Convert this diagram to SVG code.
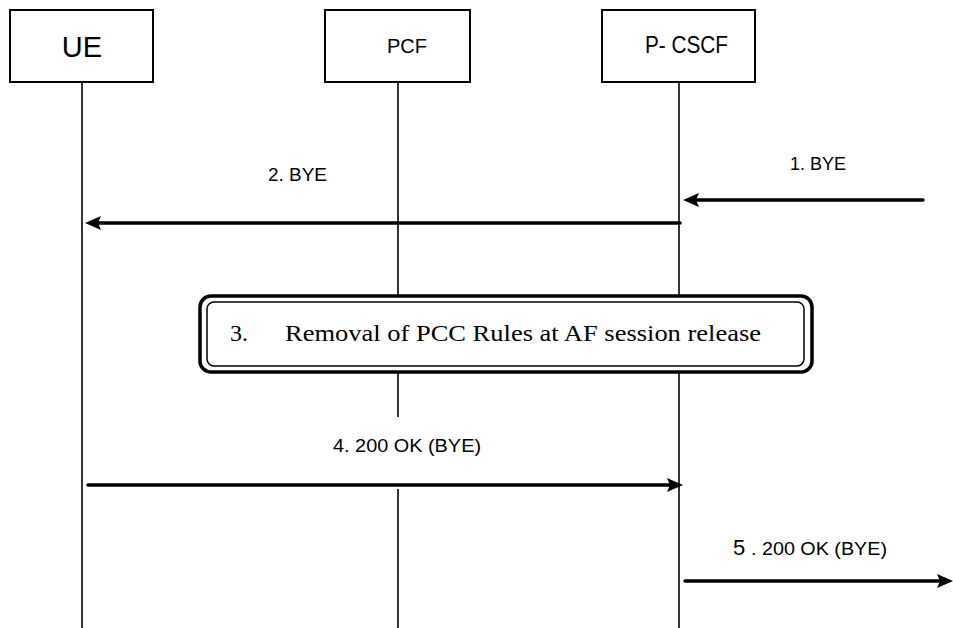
<svg xmlns="http://www.w3.org/2000/svg" width="953" height="628" viewBox="0 0 953 628">
<style>
.box{fill:#fff;stroke:#000;stroke-width:2}
.life{stroke:#000;stroke-width:1.6;fill:none}
.msg{stroke:#000;stroke-width:3.5;fill:none;stroke-linecap:round}
.t{font-family:"Liberation Sans",Arial,sans-serif;fill:#000}
.s{font-family:"Liberation Serif","Times New Roman",serif;fill:#000}
</style>
<defs>
<marker id="ah" markerUnits="userSpaceOnUse" markerWidth="18" markerHeight="16" refX="8" refY="7" orient="auto">
<path d="M0,0 L16,7 L0,14 L3,7 z" fill="#000"/>
</marker>
</defs>
<g id="lifelines">
<line class="life" x1="82" y1="82" x2="82" y2="628"/>
<line class="life" x1="398" y1="82" x2="398" y2="296"/>
<line class="life" x1="398" y1="372" x2="398" y2="417"/>
<line class="life" x1="398" y1="489" x2="398" y2="628"/>
<line class="life" x1="679" y1="82" x2="679" y2="296"/>
<line class="life" x1="679" y1="372" x2="679" y2="628"/>
</g>
<g id="UE">
<rect class="box" x="10" y="10" width="143" height="72"/>
<text class="t" x="82" y="57" font-size="29" text-anchor="middle">UE</text>
</g>
<g id="PCF">
<rect class="box" x="325" y="10" width="145" height="72"/>
<text class="t" x="387" y="53" font-size="20" textLength="40" lengthAdjust="spacingAndGlyphs">PCF</text>
</g>
<g id="P-CSCF">
<rect class="box" x="602" y="10" width="153" height="72"/>
<text class="t" x="645" y="53" font-size="24" textLength="83" lengthAdjust="spacingAndGlyphs">P- CSCF</text>
</g>
<g id="step3">
<rect x="200" y="296" width="612" height="76" rx="11" fill="#fff" stroke="#000" stroke-width="3.5"/>
<rect x="207" y="302" width="597" height="64" rx="7" fill="none" stroke="#000" stroke-width="1.5"/>
<text class="s" x="230" y="341" font-size="24">3.</text>
<text class="s" x="285" y="341" font-size="24" textLength="476" lengthAdjust="spacingAndGlyphs">Removal of PCC Rules at AF session release</text>
</g>
<g id="connectors">
<line class="msg" x1="923" y1="200" x2="691" y2="200" marker-end="url(#ah)"/>
<line class="msg" x1="680" y1="223" x2="93" y2="223" marker-end="url(#ah)"/>
<line class="msg" x1="88" y1="485" x2="675" y2="485" marker-end="url(#ah)"/>
<line class="msg" x1="685" y1="581" x2="945" y2="581" marker-end="url(#ah)"/>
</g>
<g id="labels">
<text class="t" x="790" y="170" font-size="18" textLength="56" lengthAdjust="spacingAndGlyphs">1. BYE</text>
<text class="t" x="268" y="181" font-size="18" textLength="59" lengthAdjust="spacingAndGlyphs">2. BYE</text>
<text class="t" x="333" y="452" font-size="18" textLength="148" lengthAdjust="spacingAndGlyphs">4. 200 OK (BYE)</text>
<text class="t" x="733" y="555" font-size="22">5</text>
<text class="t" x="751" y="555" font-size="18" textLength="136" lengthAdjust="spacingAndGlyphs">. 200 OK (BYE)</text>
</g>
</svg>
